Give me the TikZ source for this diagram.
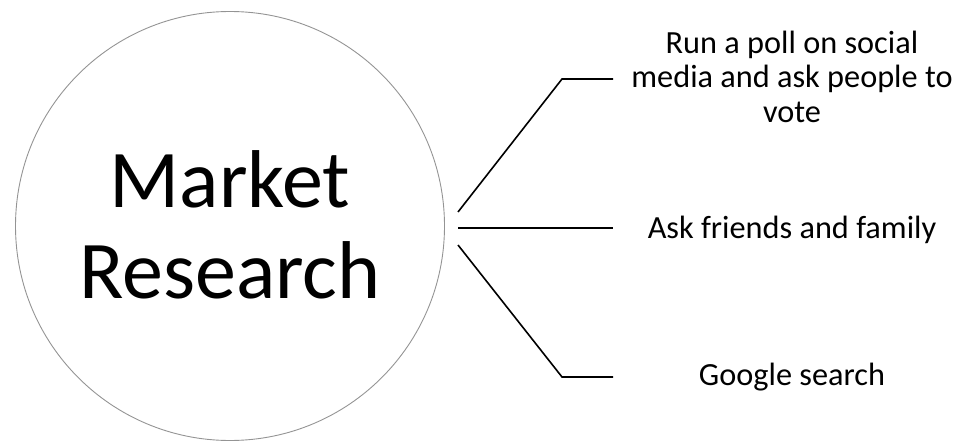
\documentclass[tikz,border=0pt]{standalone}
\usepackage{fontspec}
\setmainfont{Carlito}
\begin{document}
\begin{tikzpicture}[x=1pt,y=-1pt,
  hub/.style={circle, draw=black!42, line width=0.9pt, minimum size=429pt, inner sep=0pt},
  title/.style={align=center, inner sep=0pt, font=\fontsize{82}{91}\selectfont},
  item/.style={align=center, inner sep=0pt, font=\fontsize{32.3}{35}\selectfont},
  link/.style={line width=1.6pt, black}]
  \useasboundingbox (0,0) rectangle (955,441);
  % central topic
  \node[hub] (mr) at (230,226) {};
  \node[title] (mrtext) at (230,225) {Market\\Research};
  % branch ends next to the circle
  \coordinate (s1) at (458,212);
  \coordinate (s2) at (458,228);
  \coordinate (s3) at (458,245);
  \coordinate (k1) at (562,79);
  \coordinate (k3) at (562,377);
  \coordinate (e1) at (613,79);
  \coordinate (e2) at (613,228);
  \coordinate (e3) at (613,377);
  % ideas (base anchor sits on the last line)
  \node[item, anchor=base] (poll) at (792,123) {Run a poll on social\\media and ask people to\\vote};
  \node[item, anchor=base] (ask) at (792,238) {Ask friends and family};
  \node[item, anchor=base] (google) at (792,385) {Google search};
  % connectors
  \draw[link] (s1) -- (k1) -- (e1);
  \draw[link] (s2) -- (e2);
  \draw[link] (s3) -- (k3) -- (e3);
\end{tikzpicture}
\end{document}
